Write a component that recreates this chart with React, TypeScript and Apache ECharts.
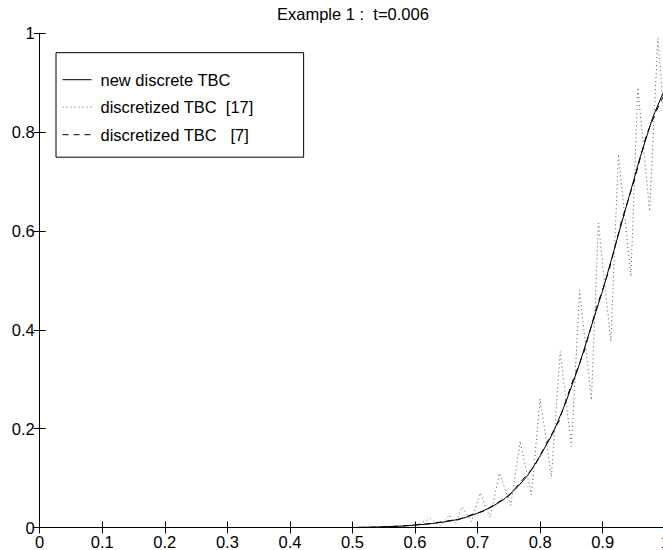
import React, { useEffect, useRef } from "react";
import * as echarts from "echarts";

const FONT = "'Liberation Sans', Arial, Helvetica, sans-serif";
const FS = 16.5;

const titleText = "Example 1 :  t=0.006";
const seriesNames = ["new discrete TBC", "discretized TBC  [17]", "discretized TBC   [7]"];

// new discrete TBC (solid)
const solidX = [0, 0.1, 0.2, 0.3, 0.4, 0.5, 0.54, 0.58, 0.6, 0.62, 0.64, 0.66, 0.68, 0.7, 0.72, 0.74, 0.76, 0.78, 0.8, 0.82, 0.84, 0.86, 0.88, 0.9, 0.92, 0.94, 0.96, 0.98, 1.0];
const solidY = [0, 0, 0, 0, 0, 0, 0.001, 0.003, 0.005, 0.007, 0.01, 0.014, 0.02, 0.029, 0.04, 0.055, 0.077, 0.105, 0.145, 0.19, 0.25, 0.32, 0.4, 0.48, 0.57, 0.66, 0.75, 0.83, 0.89];

// discretized TBC [17] (dotted, oscillating)
const dottedX = [0, 0.1, 0.2, 0.3, 0.4, 0.5, 0.56, 0.6, 0.625, 0.64, 0.655, 0.665, 0.675, 0.69, 0.704, 0.72, 0.735, 0.753, 0.768, 0.786, 0.8, 0.818, 0.832, 0.85, 0.863, 0.882, 0.893, 0.913, 0.925, 0.945, 0.956, 0.975, 0.988, 1.0];
const dottedY = [0, 0, 0, 0, 0, 0, 0.001, 0.004, 0.018, 0.003, 0.025, 0.008, 0.042, 0.012, 0.07, 0.02, 0.11, 0.045, 0.175, 0.066, 0.26, 0.103, 0.356, 0.164, 0.48, 0.258, 0.616, 0.376, 0.755, 0.508, 0.89, 0.64, 0.99, 0.8];

// discretized TBC [7] (dashed)
const dashedX = [0, 0.1, 0.2, 0.3, 0.4, 0.5, 0.55, 0.59, 0.61, 0.63, 0.65, 0.67, 0.69, 0.71, 0.73, 0.75, 0.77, 0.79, 0.81, 0.83, 0.85, 0.87, 0.89, 0.91, 0.93, 0.95, 0.97, 0.99, 1.0];
const dashedY = [0, 0, 0, 0, 0, 0, 0.001, 0.004, 0.006, 0.009, 0.013, 0.016, 0.026, 0.033, 0.049, 0.064, 0.094, 0.122, 0.17, 0.215, 0.29, 0.355, 0.445, 0.52, 0.62, 0.7, 0.795, 0.855, 0.88];

const pairs = (xs: number[], ys: number[]) => xs.map((x, i) => [x, ys[i]]);

export default function App() {
  const ref = useRef<HTMLDivElement>(null);
  useEffect(() => {
    if (!ref.current) return;
    const chart = echarts.init(ref.current, undefined, { renderer: "svg" });
    const axisCommon = {
      type: "value" as const,
      min: 0,
      max: 1,
      interval: 0.1,
      axisLine: { show: true, lineStyle: { color: "#000", width: 1 } },
      axisTick: { show: true, inside: true, length: 6, lineStyle: { color: "#000", width: 1 } },
      splitLine: { show: false },
    };
    chart.setOption({
      animation: false,
      backgroundColor: "#fff",
      title: {
        text: titleText,
        left: 277,
        top: 5,
        padding: 0,
        textStyle: { fontFamily: FONT, fontSize: FS, fontWeight: "normal", color: "#000" },
      },
      grid: {
        left: 39.7,
        top: 33.3,
        right: -2.3,
        bottom: 22.5,
        containLabel: false,
        outerBoundsMode: "none",
      },
      legend: {
        data: seriesNames,
        orient: "vertical",
        left: 56,
        top: 52.7,
        borderColor: "#000",
        borderWidth: 1,
        padding: [18.5, 50, 14, 6],
        itemWidth: 29,
        itemHeight: 14,
        itemGap: 10.5,
        itemStyle: { opacity: 0, borderWidth: 0 },
        lineStyle: { width: 1 },
        textStyle: { fontFamily: FONT, fontSize: FS, color: "#000", padding: [0, 0, 0, 4] },
      },
      xAxis: [
        {
          ...axisCommon,
          position: "bottom",
          axisLabel: { show: true, margin: 7, lineHeight: 14, fontFamily: FONT, fontSize: FS, color: "#000" },
        },
        {
          ...axisCommon,
          position: "top",
          axisLabel: { show: false },
        },
      ],
      yAxis: [
        {
          ...axisCommon,
          interval: 0.2,
          position: "left",
          axisLabel: { show: true, margin: 5, lineHeight: 14, fontFamily: FONT, fontSize: FS, color: "#000" },
        },
        {
          ...axisCommon,
          interval: 0.2,
          position: "right",
          axisLabel: { show: false },
        },
      ],
      series: [
        {
          name: seriesNames[0],
          type: "line",
          data: pairs(solidX, solidY),
          symbol: "none",
          itemStyle: { color: "#000" },
          lineStyle: { color: "#000", width: 1, type: "solid" },
          z: 3,
        },
        {
          name: seriesNames[1],
          type: "line",
          data: pairs(dottedX, dottedY),
          symbol: "none",
          itemStyle: { color: "#555" },
          lineStyle: { color: "#555", width: 1, type: [1, 3] },
          z: 2,
        },
        {
          name: seriesNames[2],
          type: "line",
          data: pairs(dashedX, dashedY),
          symbol: "none",
          itemStyle: { color: "#000" },
          lineStyle: { color: "#000", width: 1, type: [6, 5] },
          z: 2,
        },
      ],
    });
    return () => chart.dispose();
  }, []);
  return (
    <div
      ref={ref}
      style={{ position: "fixed", left: 0, top: 0, width: 663, height: 550, background: "#fff" }}
    />
  );
}
